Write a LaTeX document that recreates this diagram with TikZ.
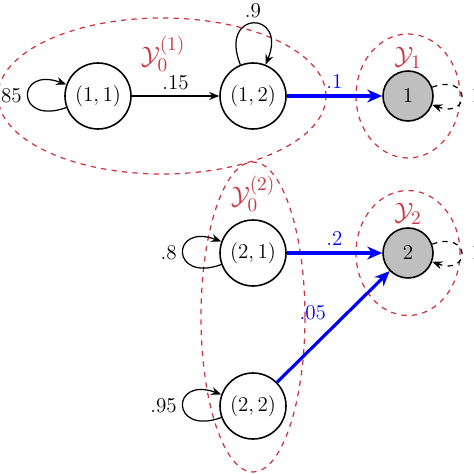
\documentclass[tikz,border=0pt]{standalone}
\usepackage{amsmath,amssymb}
\usepackage{tikz}
\usetikzlibrary{arrows.meta}
\definecolor{setred}{RGB}{205,52,64}

\begin{document}
\begin{tikzpicture}[>={Stealth[length=2mm,width=1.6mm]},font=\fontsize{12.4}{15}\selectfont,
  statenode/.style={circle,draw,line width=0.9pt,minimum size=1.32cm,inner sep=0pt},
  absorbnode/.style={circle,draw,line width=0.9pt,fill=gray!50,minimum size=1cm,inner sep=0pt},
  hop/.style={->,line width=0.7pt},
  selfhop/.style={hop,looseness=6,min distance=5mm},
  jump/.style={-{Stealth[length=3mm,width=2.6mm]},blue,line width=1.8pt},
  setline/.style={setred,dashed,line width=0.7pt},
  setlabel/.style={setred,font=\fontsize{15}{18}\selectfont}]
 \useasboundingbox (0,0) rectangle (9.48,-9.48);
 \clip (0,0) rectangle (9.48,-9.48);
 % ---- sets
 \draw[setline] (3.24,-1.92) ellipse (3.28 and 1.56);
 \draw[setline] (8.16,-1.92) ellipse (1.04 and 1.24);
 \draw[setline] (5.06,-6.34) ellipse (1.04 and 3.1);
 \draw[setline] (8.16,-5.06) ellipse (1.04 and 1.25);
 \node[setlabel] (lab01) at (3.26,-1.08) {$\mathcal{Y}_0^{(1)}$};
 \node[setlabel] (lab1) at (8.16,-1.16) {$\mathcal{Y}_1$};
 \node[setlabel] (lab02) at (5.06,-3.88) {$\mathcal{Y}_0^{(2)}$};
 \node[setlabel] (lab2) at (8.16,-4.28) {$\mathcal{Y}_2$};
 % ---- states
 \node[statenode] (s11) at (1.96,-1.92) {$(1,1)$};
 \node[statenode] (s12) at (5.06,-1.92) {$(1,2)$};
 \node[absorbnode] (a1) at (8.16,-1.92) {$1$};
 \node[statenode] (s21) at (5.06,-5.06) {$(2,1)$};
 \node[absorbnode] (a2) at (8.16,-5.06) {$2$};
 \node[statenode] (s22) at (5.06,-8.12) {$(2,2)$};
 % ---- transitions
 \draw[hop] (s11) -- node[above]{$.15$} (s12);
 \draw[selfhop] (s11) to[out=200,in=160] node[left]{$.85$} (s11);
 \draw[selfhop] (s12) to[out=112,in=68] node[above]{$.9$} (s12);
 \draw[selfhop] (s21) to[out=200,in=160] node[left]{$.8$} (s21);
 \draw[selfhop] (s22) to[out=200,in=160] node[left]{$.95$} (s22);
 \draw[selfhop,dashed] (a1) to[out=20,in=-20] node[right=2pt]{$1$} (a1);
 \draw[selfhop,dashed] (a2) to[out=20,in=-20] node[right=2pt]{$1$} (a2);
 \draw[jump] (s12) -- node[above]{$.1$} (a1);
 \draw[jump] (s21) -- node[above]{$.2$} (a2);
 \draw[jump] (s22) -- node[above left,pos=0.5]{$.05$} (a2);
\end{tikzpicture}
\end{document}
